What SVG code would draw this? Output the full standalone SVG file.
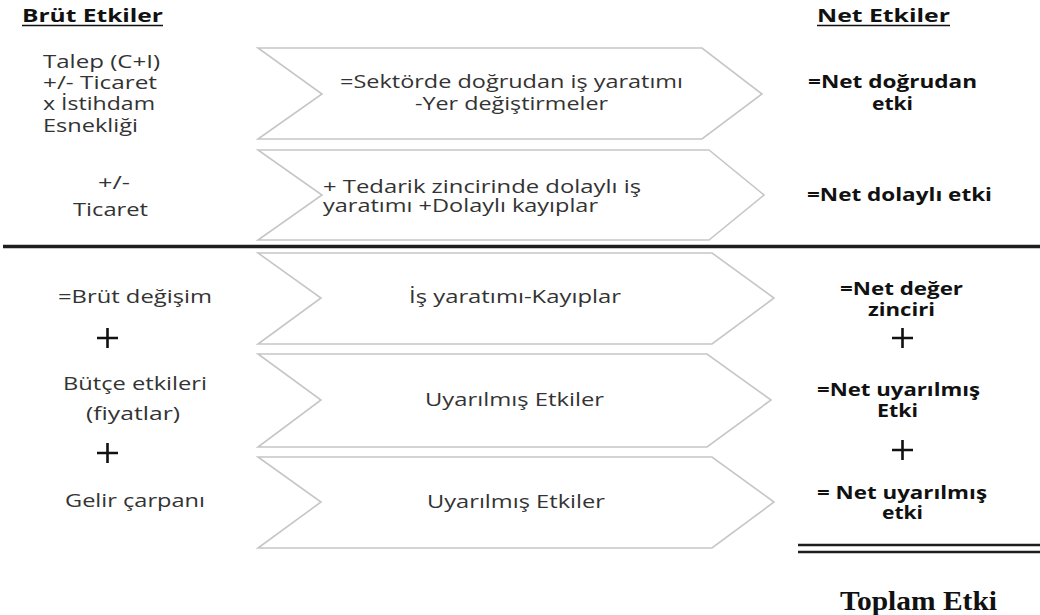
<svg xmlns="http://www.w3.org/2000/svg" width="1040" height="615" viewBox="0 0 1040 615">
<style>
.t{font-family:"Open Sans","Liberation Sans",sans-serif;font-size:18px;fill:#333}
.b{font-family:"Open Sans","Liberation Sans",sans-serif;font-size:18px;font-weight:bold;fill:#111}
.chev{fill:#fff;stroke:#c6c6c6;stroke-width:1.6}
.plus{stroke:#111;stroke-width:2.6;fill:none}
.ul{stroke:#111;stroke-width:1.6}
</style>
<rect width="1040" height="615" fill="#fff"/>
<g id="headers">
<text class="b" x="22" y="22" textLength="141" lengthAdjust="spacingAndGlyphs">Brüt Etkiler</text>
<line class="ul" x1="22" y1="25.5" x2="163" y2="25.5"/>
<text class="b" x="817" y="22" textLength="133" lengthAdjust="spacingAndGlyphs">Net Etkiler</text>
<line class="ul" x1="817" y1="25.5" x2="950" y2="25.5"/>
</g>
<g id="left-top">
<text class="t" x="43" y="68" textLength="117" lengthAdjust="spacingAndGlyphs">Talep (C+I)</text>
<text class="t" x="43" y="89" textLength="114" lengthAdjust="spacingAndGlyphs">+/- Ticaret</text>
<text class="t" x="43" y="110" textLength="112" lengthAdjust="spacingAndGlyphs">x İstihdam</text>
<text class="t" x="43" y="132" textLength="95" lengthAdjust="spacingAndGlyphs">Esnekliği</text>
<text class="t" x="98" y="189" textLength="32" lengthAdjust="spacingAndGlyphs">+/-</text>
<text class="t" x="73" y="216" textLength="75" lengthAdjust="spacingAndGlyphs">Ticaret</text>
</g>
<g id="chevrons">
<g id="chev1"><polygon class="chev" points="258,48 702,48 762,94 702,139 258,139 322,94"/>
<text class="t" x="340" y="88" textLength="343" lengthAdjust="spacingAndGlyphs">=Sektörde doğrudan iş yaratımı</text>
<text class="t" x="415" y="110" textLength="193" lengthAdjust="spacingAndGlyphs">-Yer değiştirmeler</text></g>
<g id="chev2"><polygon class="chev" points="258,150 709,150 764,195 709,240 258,240 322,195"/>
<text class="t" x="323" y="193" textLength="318" lengthAdjust="spacingAndGlyphs">+ Tedarik zincirinde dolaylı iş</text>
<text class="t" x="323" y="212" textLength="275" lengthAdjust="spacingAndGlyphs">yaratımı +Dolaylı kayıplar</text></g>
<g id="chev3"><polygon class="chev" points="258,253 712,253 774,298 712,344 258,344 321,298"/>
<text class="t" x="409" y="303" textLength="212" lengthAdjust="spacingAndGlyphs">İş yaratımı-Kayıplar</text></g>
<g id="chev4"><polygon class="chev" points="258,354 707,354 771,400 707,447 258,447 321,400"/>
<text class="t" x="425" y="406" textLength="179" lengthAdjust="spacingAndGlyphs">Uyarılmış Etkiler</text></g>
<g id="chev5"><polygon class="chev" points="258,457 712,457 774,502 712,548 258,548 321,502"/>
<text class="t" x="427" y="508" textLength="178" lengthAdjust="spacingAndGlyphs">Uyarılmış Etkiler</text></g>
</g>
<g id="connectors">
<line x1="3" y1="246.5" x2="1040" y2="246.5" stroke="#1e1e1e" stroke-width="3.5"/>
<line x1="798" y1="545" x2="1040" y2="545" stroke="#1e1e1e" stroke-width="2.5"/>
<line x1="798" y1="552" x2="1040" y2="552" stroke="#1e1e1e" stroke-width="2.5"/>
</g>
<g id="right-top">
<text class="b" x="808" y="88" textLength="169" lengthAdjust="spacingAndGlyphs">=Net doğrudan</text>
<text class="b" x="872" y="110" textLength="41" lengthAdjust="spacingAndGlyphs">etki</text>
<text class="b" x="807" y="201" textLength="185" lengthAdjust="spacingAndGlyphs">=Net dolaylı etki</text>
</g>
<g id="left-bottom">
<text class="t" x="58" y="303" textLength="154" lengthAdjust="spacingAndGlyphs">=Brüt değişim</text>
<path class="plus" d="M97,338 H118 M107.5,328 V348"/>
<text class="t" x="63" y="390" textLength="144" lengthAdjust="spacingAndGlyphs">Bütçe etkileri</text>
<text class="t" x="86" y="420" textLength="94" lengthAdjust="spacingAndGlyphs">(fiyatlar)</text>
<path class="plus" d="M97,453 H118 M107.5,443 V463"/>
<text class="t" x="65" y="507" textLength="140" lengthAdjust="spacingAndGlyphs">Gelir çarpanı</text>
</g>
<g id="right-bottom">
<text class="b" x="840" y="295" textLength="123" lengthAdjust="spacingAndGlyphs">=Net değer</text>
<text class="b" x="868" y="316" textLength="67" lengthAdjust="spacingAndGlyphs">zinciri</text>
<path class="plus" d="M892,338 H913 M902.5,328 V348"/>
<text class="b" x="817" y="396" textLength="163" lengthAdjust="spacingAndGlyphs">=Net uyarılmış</text>
<text class="b" x="877" y="417" textLength="41" lengthAdjust="spacingAndGlyphs">Etki</text>
<path class="plus" d="M892,450 H913 M902.5,440 V460"/>
<text class="b" x="817" y="499" textLength="170" lengthAdjust="spacingAndGlyphs">= Net uyarılmış</text>
<text class="b" x="882" y="519" textLength="41" lengthAdjust="spacingAndGlyphs">etki</text>
<text x="840" y="610" textLength="157" lengthAdjust="spacingAndGlyphs" font-family="'Liberation Serif',serif" font-weight="bold" font-size="28" fill="#111">Toplam Etki</text>
</g>
</svg>
